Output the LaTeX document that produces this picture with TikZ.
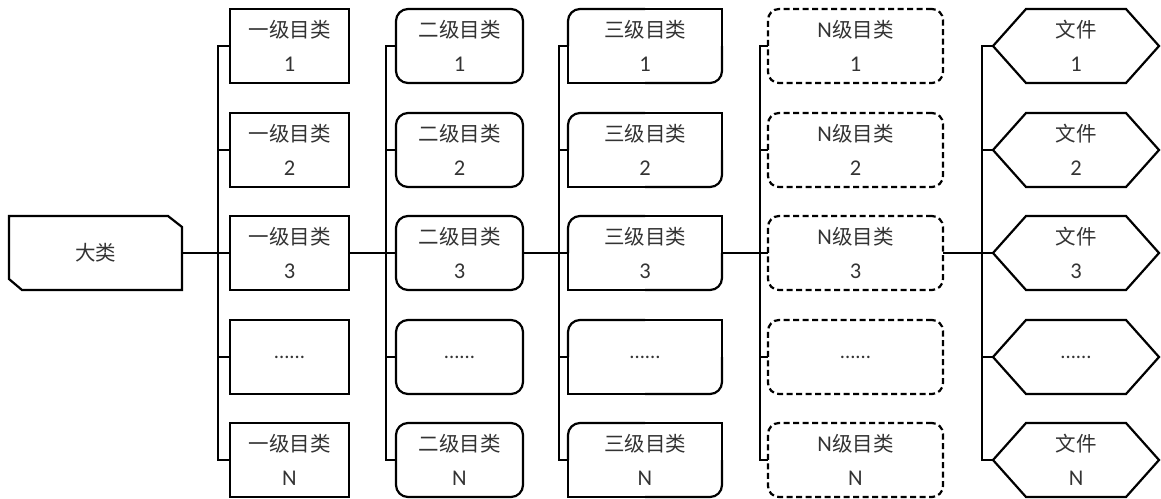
\documentclass[tikz,border=0pt]{standalone}
\usepackage{fontspec}
\setmainfont{Carlito}
\newfontfamily\cjk{Noto Sans CJK SC}
\newcommand\dg[1]{{\fontsize{22.5}{34}\selectfont #1}}
\begin{document}
\begin{tikzpicture}[x=1pt,y=-1pt,
  every node/.style={inner sep=0pt,outer sep=0pt,align=center,text=black!80,
    font=\fontsize{20.5}{34}\selectfont},
  ln/.style={line width=2.2pt,black},
  bx/.style={minimum height=74pt},
  c1/.style={bx,minimum width=119pt,draw,line width=2.2pt},
  c2/.style={bx,minimum width=127pt,draw,line width=2.2pt,rounded corners=12pt},
  c3/.style={bx,minimum width=154pt},
  c4/.style={bx,minimum width=175pt,draw,line width=2.2pt,rounded corners=11pt,dash pattern=on 6pt off 3.5pt},
  c5/.style={bx,minimum width=166pt},
  dl/.style={minimum width=173pt,minimum height=74pt}
]
\useasboundingbox (0,0) rectangle (1161,498);

% main class
\node[dl] (d) at (95.5,253) {\cjk 大类};
\draw[ln] (d.north west) -- ([xshift=-14pt]d.north east) -- ([yshift=-11pt]d.north east)
  -- (d.south east) -- ([xshift=13pt]d.south west) -- ([yshift=11pt]d.south west) -- cycle;

% column 1
\node[c1] (a1) at (289.5,46)  {{\cjk 一级目类}\\\dg{1}};
\node[c1] (a2) at (289.5,150) {{\cjk 一级目类}\\\dg{2}};
\node[c1] (a3) at (289.5,253) {{\cjk 一级目类}\\\dg{3}};
\node[c1] (a4) at (289.5,357) {......};
\node[c1] (a5) at (289.5,460) {{\cjk 一级目类}\\\dg{N}};

% column 2
\node[c2] (b1) at (459.5,46)  {{\cjk 二级目类}\\\dg{1}};
\node[c2] (b2) at (459.5,150) {{\cjk 二级目类}\\\dg{2}};
\node[c2] (b3) at (459.5,253) {{\cjk 二级目类}\\\dg{3}};
\node[c2] (b4) at (459.5,357) {......};
\node[c2] (b5) at (459.5,460) {{\cjk 二级目类}\\\dg{N}};

% column 3
\node[c3] (e1) at (645,46)  {{\cjk 三级目类}\\\dg{1}};
\node[c3] (e2) at (645,150) {{\cjk 三级目类}\\\dg{2}};
\node[c3] (e3) at (645,253) {{\cjk 三级目类}\\\dg{3}};
\node[c3] (e4) at (645,357) {......};
\node[c3] (e5) at (645,460) {{\cjk 三级目类}\\\dg{N}};
\foreach \n in {e1,e2,e3,e4,e5}{
  \draw[ln,rounded corners=12pt] (\n.north) -| (\n.west);
  \draw[ln,line cap=rect] (\n.west) |- (\n.south);
  \draw[ln,rounded corners=12pt] (\n.south) -| (\n.east);
  \draw[ln,line cap=rect] (\n.east) |- (\n.north);
}

% column 4
\node[c4] (f1) at (855.5,46)  {\dg{N}{\cjk 级目类}\\\dg{1}};
\node[c4] (f2) at (855.5,150) {\dg{N}{\cjk 级目类}\\\dg{2}};
\node[c4] (f3) at (855.5,253) {\dg{N}{\cjk 级目类}\\\dg{3}};
\node[c4] (f4) at (855.5,357) {......};
\node[c4] (f5) at (855.5,460) {\dg{N}{\cjk 级目类}\\\dg{N}};

% column 5
\node[c5] (g1) at (1076,46)  {{\cjk 文件}\\\dg{1}};
\node[c5] (g2) at (1076,150) {{\cjk 文件}\\\dg{2}};
\node[c5] (g3) at (1076,253) {{\cjk 文件}\\\dg{3}};
\node[c5] (g4) at (1076,357) {......};
\node[c5] (g5) at (1076,460) {{\cjk 文件}\\\dg{N}};
\foreach \n in {g1,g2,g3,g4,g5}{
  \draw[ln,line join=miter] (\n.west) -- ([xshift=33pt]\n.north west) -- ([xshift=-33pt]\n.north east)
    -- (\n.east) -- ([xshift=-33pt]\n.south east) -- ([xshift=33pt]\n.south west) -- cycle;
}

% connectors
\draw[ln] (d.east) -- (a3.west);
\draw[ln] (a1.west) -- ++(-12,0) |- (a5.west);
\draw[ln] (a2.west) -- ++(-12,0);
\draw[ln] (a4.west) -- ++(-12,0);

\draw[ln] (a3.east) -- (b3.west);
\draw[ln] (b1.west) -- ++(-10,0) |- (b5.west);
\draw[ln] (b2.west) -- ++(-10,0);
\draw[ln] (b4.west) -- ++(-10,0);

\draw[ln] (b3.east) -- (e3.west);
\draw[ln] (e1.west) -- ++(-9,0) |- (e5.west);
\draw[ln] (e2.west) -- ++(-9,0);
\draw[ln] (e4.west) -- ++(-9,0);

\draw[ln] (e3.east) -- (f3.west);
\draw[ln] (f1.west) -- ++(-8,0) |- (f5.west);
\draw[ln] (f2.west) -- ++(-8,0);
\draw[ln] (f4.west) -- ++(-8,0);

\draw[ln] (f3.east) -- (g3.west);
\draw[ln] (g1.west) -- ++(-11,0) |- (g5.west);
\draw[ln] (g2.west) -- ++(-11,0);
\draw[ln] (g4.west) -- ++(-11,0);
\end{tikzpicture}
\end{document}
